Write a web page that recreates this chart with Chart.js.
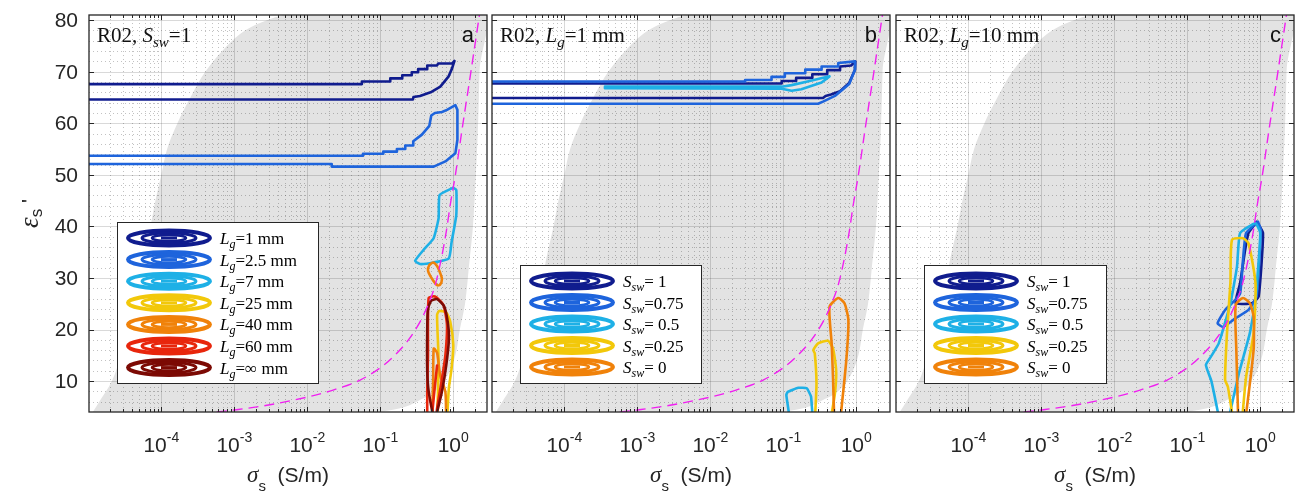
<!DOCTYPE html>
<html>
<head>
<meta charset="utf-8">
<script src="https://cdn.jsdelivr.net/npm/chart.js@4.4.0/dist/chart.umd.min.js"></script>
<style>
  body { margin: 0; background: #fff; width: 1295px; height: 494px; overflow: hidden; position: relative; }
  canvas { position: absolute; top: 0; }
</style>
</head>
<body>
<canvas id="pa" width="491" height="494" style="left:0px"></canvas>
<canvas id="pb" width="402" height="494" style="left:490px"></canvas>
<canvas id="pc" width="402" height="494" style="left:893px"></canvas>
<script>
// axes
const XMIN = 1.02e-5, XMAX = 2.9, YMIN = 4, YMAX = 81;
const xTickExp = [-4, -3, -2, -1, 0];
const yTicks = [10, 20, 30, 40, 50, 60, 70, 80];

// shaded region (left edge bottom->top, right edge top->bottom)
const regionLeft = [[1.05e-5,3],[1.15e-5,4],[1.41e-5,6],[2.1e-5,10],[2.8e-5,15],[3.5e-5,20],[4.2e-5,25],[5.0e-5,30],[5.9e-5,35],[7.1e-5,40],[8.3e-5,45],[1.0e-4,50],[1.2e-4,55],[1.66e-4,60],[2.5e-4,65],[4.0e-4,70],[7.9e-4,75],[1.4e-3,78],[2.8e-3,80],[6.3e-3,81.5],[1.6e-2,83]];
const regionRight = [[2.4,83],[2.29,70],[2.19,60],[2.04,50],[1.86,40],[1.66,33],[1.45,25],[1.23,20],[1.07,15],[0.83,11],[0.56,8],[0.37,6.5],[0.22,5],[0.1,4],[0.04,3]];

// magenta dashed curve
const sepX = [5.75e-4, 1.0e-3, 2.8e-3, 0.01, 0.0225, 0.053, 0.103, 0.15, 0.22, 0.32, 0.44, 0.57, 0.69, 0.80, 0.91, 1.07, 1.33, 1.72, 2.29];
const sepY = [4.0, 4.4, 5.3, 6.9, 8.25, 10.2, 12.7, 14.7, 17.2, 20.5, 24.4, 28.8, 33.9, 38.9, 44.2, 50.0, 59.1, 69.4, 81.1];

// panel a: S_sw = 1, different L_g
const aLg1 = [[1e-6,67.6],[0.056,67.6],[0.056,68.1],[0.137,68.1],[0.137,68.7],[0.2,68.7],[0.2,69.3],[0.27,69.3],[0.27,69.9],[0.33,69.9],[0.33,70.5],[0.44,70.5],[0.44,71.2],[0.6,71.2],[0.62,71.6],[0.97,71.6],[1.04,72.1],[0.96,70.6],[0.865,69.1],[0.665,67.1],[0.49,66.0],[0.35,65.3],[0.285,65.1],[0.28,64.6],[1e-6,64.6]];
const aLg2p5 = [[1e-6,53.7],[0.058,53.7],[0.058,54.1],[0.11,54.1],[0.11,54.5],[0.169,54.5],[0.169,55.0],[0.22,55.0],[0.22,55.7],[0.283,55.7],[0.283,56.5],[0.372,57.8],[0.47,59.5],[0.5,61.5],[0.56,62.0],[0.7,62.2],[0.82,62.6],[1.07,63.5],[1.14,62.6],[1.14,56.8],[1.07,54.2],[0.78,52.6],[0.54,51.6],[0.0216,51.6],[0.0216,52.1],[1e-6,52.1]];
const aLg7 = [[1.0,47.5],[1.1,47.1],[1.1,42.2],[0.95,37.0],[0.87,33.8],[0.538,33.0],[0.35,32.7],[0.3,33.3],[0.39,35.4],[0.538,37.7],[0.63,41.6],[0.65,46.1],[1.0,47.5]];
const aLg25 = [[0.6,2],[0.63,13.7],[0.6,22.8],[0.64,23.6],[0.8,23.3],[0.91,21.5],[1.0,17.0],[0.95,12.5],[0.87,8.6],[0.82,2]];
const aLg40 = [[0.47,32.5],[0.53,33.0],[0.6,32.3],[0.66,31.0],[0.7,29.8],[0.66,28.7],[0.6,28.6],[0.53,29.5],[0.46,31.0],[0.45,31.8],[0.47,32.5]];
const aLg40b = [[0.51,2],[0.53,10],[0.54,16.3],[0.6,15.5],[0.66,11.2],[0.78,7.9],[0.8,2]];
const aLg60 = [[0.44,2],[0.44,7.9],[0.45,15],[0.46,26.1],[0.56,26.4],[0.73,24.8],[0.82,20.9],[0.78,15],[0.69,9.9],[0.6,4.7],[0.58,2]];
const aLg60b = [[0.5,2],[0.56,9],[0.6,13]];
const aLgInf = [[0.55,2],[0.46,8],[0.44,12],[0.44,20],[0.45,24],[0.5,25.6],[0.6,25.9],[0.75,24.5],[0.85,21],[0.87,18],[0.8,13],[0.7,8],[0.6,4],[0.55,2]];

// panel b: L_g = 1 mm, different S_sw
const bS1 = [[1e-6,67.7],[0.095,67.7],[0.095,68.2],[0.15,68.2],[0.15,68.8],[0.25,68.8],[0.25,69.5],[0.4,69.5],[0.4,70.3],[0.6,70.3],[0.6,71.0],[0.85,71.2],[0.97,72.0],[0.96,70.4],[0.8,67.8],[0.6,66.2],[0.45,65.6],[0.38,65.3],[0.35,64.9],[1e-6,64.9]];
const bS075 = [[1e-6,68.1],[0.03,68.1],[0.03,68.4],[0.069,68.4],[0.069,69.0],[0.105,69.0],[0.105,69.7],[0.2,69.7],[0.2,70.4],[0.335,70.4],[0.335,71.0],[0.566,71.0],[0.566,71.7],[0.96,72.0],[0.96,70.4],[0.8,67.6],[0.51,65.3],[0.35,64.2],[0.3,63.8],[1e-6,63.8]];
const bS05 = [[3.6e-4,67.1],[0.095,67.1],[0.13,67.4],[0.215,68.1],[0.43,69.1],[0.335,67.9],[0.177,66.6],[0.13,66.3],[0.095,66.7],[3.6e-4,66.8],[3.6e-4,67.1]];
const bS05b = [[0.125,2],[0.11,7.3],[0.115,7.9],[0.16,8.7],[0.21,8.6],[0.24,7.0],[0.255,2]];
const bS025 = [[0.27,2],[0.285,9.5],[0.27,15.4],[0.258,16],[0.30,17.3],[0.41,17.8],[0.48,16.3],[0.53,12.1],[0.51,7.6],[0.44,2]];
const bS0 = [[0.5,2],[0.48,10.8],[0.46,17.3],[0.43,24.4],[0.566,26.1],[0.69,25.1],[0.78,21.8],[0.73,14],[0.6,2]];

// panel c: L_g = 10 mm, different S_sw
const cS1 = [[0.895,40.9],[1.09,38.7],[0.95,26.4],[0.77,25.1],[0.46,25.1],[0.53,29],[0.62,35.4],[0.69,38.7],[0.895,40.9]];
const cS075 = [[0.93,40.9],[1.02,39.3],[0.89,26.4],[0.69,23.8],[0.46,22.2],[0.31,20.5],[0.26,21.2],[0.33,23.8],[0.43,25.4],[0.53,27],[0.58,33.5],[0.64,38.7],[0.93,40.9]];
const cS05 = [[0.28,2],[0.215,9.9],[0.18,13.1],[0.21,14.7],[0.27,17.3],[0.39,25.1],[0.48,32.2],[0.53,38.7],[0.86,40.6],[1.0,38.7],[0.86,25.7],[0.72,19.3],[0.51,11.5],[0.36,2]];
const cS025 = [[0.43,2],[0.36,8.9],[0.33,10.2],[0.35,19.3],[0.39,29],[0.41,37.4],[0.58,37.7],[0.69,36.7],[0.86,29],[0.81,19.3],[0.64,10.8],[0.56,2]];
const cS0 = [[0.5,2],[0.47,16],[0.46,24.8],[0.58,26.1],[0.72,25.1],[0.81,22.5],[0.81,16],[0.62,2]];

const cNavy = '#101c8e', cBlue = '#1e64dc', cCyan = '#1eb0e6', cYellow = '#f2c80a',
      cOrange = '#f0820a', cRed = '#e8260c', cDark = '#7c0a04';

const SANS = '"Liberation Sans", Arial, sans-serif';
const SERIF = '"Liberation Serif", "Times New Roman", serif';

function rich(ctx, x, y, parts, align) {
  let w = 0;
  parts.forEach(p => { ctx.font = p[1]; w += ctx.measureText(p[0]).width; });
  let cx = align === 'center' ? x - w / 2 : (align === 'right' ? x - w : x);
  ctx.textAlign = 'left';
  ctx.textBaseline = 'alphabetic';
  parts.forEach(p => {
    ctx.font = p[1];
    ctx.fillText(p[0], cx, y + (p[2] || 0));
    cx += ctx.measureText(p[0]).width;
  });
}

function contour(pts, color, tension) {
  return {
    data: pts.map(p => ({ x: p[0], y: p[1] })),
    borderColor: color, borderWidth: 2.6, pointRadius: 0, fill: false,
    tension: tension || 0, order: 1, clip: 0,
    borderJoinStyle: 'round', borderCapStyle: 'round'
  };
}

function baseDatasets() {
  const poly = regionLeft.concat(regionRight);
  return [
    {
      label: 'region',
      data: poly.map(p => ({ x: p[0], y: p[1] })),
      backgroundColor: '#e3e3e3', borderColor: 'rgba(0,0,0,0)', borderWidth: 1,
      pointRadius: 0, fill: 'shape', tension: 0.35, order: 10, clip: 0
    },
    {
      label: 'sep',
      data: sepX.map((v, i) => ({ x: v, y: sepY[i] })),
      borderColor: '#f020f0', borderWidth: 1.4, borderDash: [10, 6],
      pointRadius: 0, fill: false, cubicInterpolationMode: 'monotone', order: 0, clip: 0
    }
  ];
}

function drawGrid(chart) {
  const { ctx, chartArea: a, scales: { x, y } } = chart;
  ctx.save();
  ctx.beginPath();
  ctx.rect(a.left, a.top, a.right - a.left, a.bottom - a.top);
  ctx.clip();
  // minor grid, dotted
  ctx.strokeStyle = 'rgba(30,30,30,0.27)';
  ctx.lineWidth = 1;
  ctx.setLineDash([1, 3]);
  ctx.beginPath();
  for (let k = -5; k <= 0; k++) {
    for (let m = 2; m <= 9; m++) {
      const v = m * Math.pow(10, k);
      if (v < XMIN || v > XMAX) continue;
      const px = Math.round(x.getPixelForValue(v)) + 0.5;
      ctx.moveTo(px, a.top); ctx.lineTo(px, a.bottom);
    }
  }
  for (let v = 6; v < YMAX; v += 2) {
    if (v % 10 === 0) continue;
    const py = Math.round(y.getPixelForValue(v)) + 0.5;
    ctx.moveTo(a.left, py); ctx.lineTo(a.right, py);
  }
  ctx.stroke();
  // major grid
  ctx.setLineDash([]);
  ctx.strokeStyle = 'rgba(0,0,0,0.15)';
  ctx.beginPath();
  xTickExp.forEach(e => {
    const px = Math.round(x.getPixelForValue(Math.pow(10, e))) + 0.5;
    ctx.moveTo(px, a.top); ctx.lineTo(px, a.bottom);
  });
  yTicks.forEach(v => {
    const py = Math.round(y.getPixelForValue(v)) + 0.5;
    ctx.moveTo(a.left, py); ctx.lineTo(a.right, py);
  });
  ctx.stroke();
  ctx.restore();
}

function drawAxes(chart, deco) {
  const { ctx, chartArea: a, scales: { x, y } } = chart;
  ctx.save();
  ctx.strokeStyle = '#262626';
  ctx.lineWidth = 1;
  ctx.beginPath();
  for (let k = -5; k <= 0; k++) {
    for (let m = 1; m <= 9; m++) {
      const v = m * Math.pow(10, k);
      if (v < XMIN || v > XMAX) continue;
      const px = Math.round(x.getPixelForValue(v)) + 0.5;
      const len = m === 1 ? 5 : 3;
      ctx.moveTo(px, a.bottom); ctx.lineTo(px, a.bottom - len);
      ctx.moveTo(px, a.top); ctx.lineTo(px, a.top + len);
    }
  }
  yTicks.forEach(v => {
    const py = Math.round(y.getPixelForValue(v)) + 0.5;
    ctx.moveTo(a.left, py); ctx.lineTo(a.left + 5, py);
    ctx.moveTo(a.right, py); ctx.lineTo(a.right - 5, py);
  });
  ctx.stroke();
  ctx.lineWidth = 1.3;
  ctx.strokeRect(a.left, a.top, a.right - a.left, a.bottom - a.top);

  ctx.fillStyle = '#262626';
  // x tick labels
  xTickExp.forEach(e => {
    const px = x.getPixelForValue(Math.pow(10, e));
    rich(ctx, px, 452, [['10', `21px ${SANS}`, 0], [String(e), `14px ${SANS}`, -10]], 'center');
  });
  // x axis title
  const mid = (a.left + a.right) / 2;
  rich(ctx, mid, 482, [['σ', `italic 23px ${SERIF}`, 0], ['s', `15px ${SANS}`, 9], ['  (S/m)', `21px ${SANS}`, 0]], 'center');

  if (deco.yAxis) {
    ctx.textAlign = 'right';
    ctx.textBaseline = 'middle';
    ctx.font = `21px ${SANS}`;
    yTicks.forEach(v => ctx.fillText(String(v), a.left - 11, y.getPixelForValue(v) + 1));
    ctx.save();
    ctx.translate(38, (a.top + a.bottom) / 2);
    ctx.rotate(-Math.PI / 2);
    rich(ctx, 0, 0, [['ε', `italic 27px ${SERIF}`, 0], ['s', `17px ${SANS}`, 4], [" '", `21px ${SANS}`, -2]], 'center');
    ctx.restore();
  }

  // panel title and letter
  ctx.fillStyle = '#111';
  rich(ctx, a.left + 8, 42, deco.title, 'left');
  ctx.font = `22px ${SANS}`;
  ctx.textAlign = 'right';
  ctx.textBaseline = 'alphabetic';
  ctx.fillText(deco.letter, a.right - 13, 42);

  // legend
  const lg = deco.legend;
  const L = a.left + 28;
  ctx.fillStyle = '#fff';
  ctx.fillRect(L, lg.top, lg.w, 383 - lg.top);
  ctx.strokeStyle = '#262626';
  ctx.lineWidth = 1;
  ctx.strokeRect(L + 0.5, lg.top + 0.5, lg.w, 383 - lg.top);
  lg.rows.forEach((r, i) => {
    const cy = lg.first + i * lg.step;
    const cx = a.left + 80;
    ctx.strokeStyle = r[0];
    [[41, 7.5, 4], [27, 5, 3], [17, 3, 2.5]].forEach(e => {
      ctx.lineWidth = e[2];
      ctx.beginPath();
      ctx.ellipse(cx, cy, e[0], e[1], 0, 0, 2 * Math.PI);
      ctx.stroke();
    });
    ctx.lineWidth = 3;
    ctx.beginPath();
    ctx.moveTo(cx - 8, cy); ctx.lineTo(cx + 8, cy);
    ctx.stroke();
    ctx.fillStyle = '#000';
    rich(ctx, a.left + 131, cy + 6, r[1], 'left');
  });
  ctx.restore();
}

function lgLabel(v) {
  return [['L', `italic 17px ${SERIF}`, 0], ['g', `italic 12px ${SERIF}`, 4], ['=' + v + ' mm', `17px ${SERIF}`, 0]];
}
function swLabel(v) {
  return [['S', `italic 17px ${SERIF}`, 0], ['sw', `italic 12px ${SERIF}`, 4], ['=' + v, `17px ${SERIF}`, 0]];
}

function makePanel(id, pad, lines, deco) {
  const datasets = baseDatasets().concat(lines);
  new Chart(document.getElementById(id), {
    type: 'line',
    data: { datasets: datasets },
    options: {
      responsive: false, animation: false, devicePixelRatio: 1, events: [],
      layout: { padding: pad },
      plugins: { legend: { display: false }, tooltip: { enabled: false } },
      scales: {
        x: { type: 'logarithmic', min: XMIN, max: XMAX, display: false },
        y: { type: 'linear', min: YMIN, max: YMAX, display: false }
      }
    },
    plugins: [{
      id: 'deco' + id,
      afterDatasetDraw(chart, args) {
        if (chart.data.datasets[args.index].label === 'region') drawGrid(chart);
      },
      afterDraw(chart) { drawAxes(chart, deco); }
    }]
  });
}

makePanel('pa', { left: 89, right: 4, top: 15, bottom: 82 }, [
  contour(aLgInf, cDark, 0.2), contour(aLg60, cRed, 0.2), contour(aLg60b, cRed),
  contour(aLg40, cOrange, 0.3), contour(aLg40b, cOrange, 0.2), contour(aLg25, cYellow, 0.2),
  contour(aLg7, cCyan, 0.15), contour(aLg2p5, cBlue), contour(aLg1, cNavy)
], {
  yAxis: true, letter: 'a',
  title: [['R02, ', `21px ${SERIF}`, 0], ['S', `italic 21px ${SERIF}`, 0], ['sw', `italic 15px ${SERIF}`, 5], ['=1', `21px ${SERIF}`, 0]],
  legend: {
    top: 222, w: 201, first: 238, step: 21.6,
    rows: [[cNavy, lgLabel('1')], [cBlue, lgLabel('2.5')], [cCyan, lgLabel('7')], [cYellow, lgLabel('25')],
           [cOrange, lgLabel('40')], [cRed, lgLabel('60')], [cDark, lgLabel('∞')]]
  }
});

const swRows = [[cNavy, swLabel(' 1')], [cBlue, swLabel('0.75')], [cCyan, swLabel(' 0.5')], [cYellow, swLabel('0.25')], [cOrange, swLabel(' 0')]];

makePanel('pb', { left: 2, right: 2, top: 15, bottom: 82 }, [
  contour(bS0, cOrange, 0.2), contour(bS025, cYellow, 0.2), contour(bS05b, cCyan, 0.1),
  contour(bS05, cCyan), contour(bS075, cBlue), contour(bS1, cNavy)
], {
  yAxis: false, letter: 'b',
  title: [['R02, ', `21px ${SERIF}`, 0], ['L', `italic 21px ${SERIF}`, 0], ['g', `italic 15px ${SERIF}`, 5], ['=1 mm', `21px ${SERIF}`, 0]],
  legend: { top: 265, w: 181, first: 281, step: 21.5, rows: swRows }
});

makePanel('pc', { left: 3, right: 1, top: 15, bottom: 82 }, [
  contour(cS0, cOrange, 0.2), contour(cS025, cYellow, 0.2), contour(cS05, cCyan, 0.15),
  contour(cS075, cBlue, 0.15), contour(cS1, cNavy, 0.15)
], {
  yAxis: false, letter: 'c',
  title: [['R02, ', `21px ${SERIF}`, 0], ['L', `italic 21px ${SERIF}`, 0], ['g', `italic 15px ${SERIF}`, 5], ['=10 mm', `21px ${SERIF}`, 0]],
  legend: { top: 265, w: 182, first: 281, step: 21.5, rows: swRows }
});
</script>
</body>
</html>
